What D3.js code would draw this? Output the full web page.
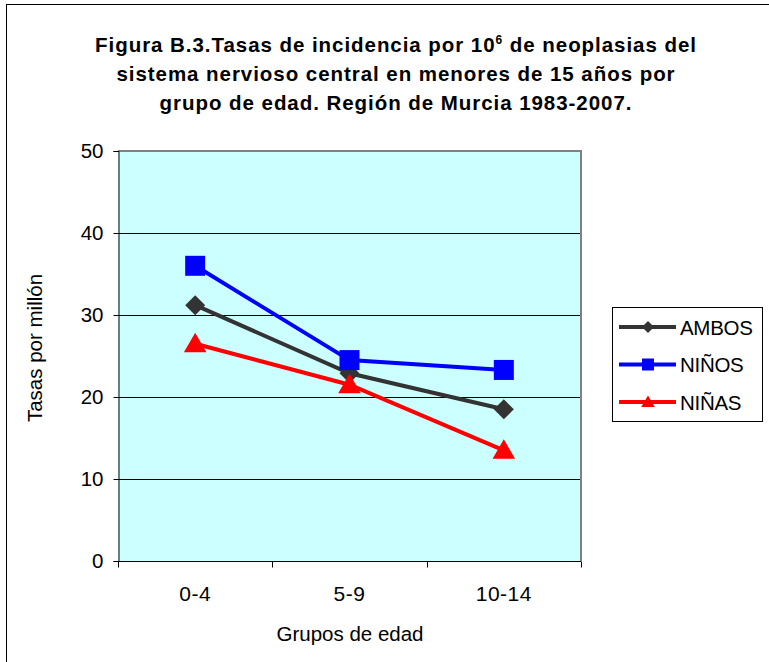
<!DOCTYPE html>
<html>
<head>
<meta charset="utf-8">
<script src="https://cdn.jsdelivr.net/npm/d3@7"></script>
<style>
  body { margin: 0; background: #fff; }
  svg { font-family: "Liberation Sans", Arial, sans-serif; }
</style>
</head>
<body>
<div id="vis"></div>
<script>
'use strict';

// Chart data
const groups = ["0-4", "5-9", "10-14"];
const ambos = [31.2, 22.9, 18.5];
const ninos = [36.0, 24.5, 23.3];
const ninas = [26.5, 21.5, 13.5];
const yTicks = [0, 10, 20, 30, 40, 50];

const series = [
    { name: "AMBOS", values: ambos, color: "#333333", marker: "diamond" },
    { name: "NIÑOS", values: ninos, color: "#0000FF", marker: "square" },
    { name: "NIÑAS", values: ninas, color: "#FF0000", marker: "triangle" }
];

const plot = { left: 118, right: 581, top: 151, bottom: 561 };
const axisFont = "20.5px";

const svg = d3.select("#vis").append("svg")
    .attr("width", 769)
    .attr("height", 662);

// Outer chart frame (only top and left are inside the picture)
svg.append("rect")
    .attr("x", 6.5).attr("y", 4.5)
    .attr("width", 800).attr("height", 700)
    .attr("fill", "none")
    .attr("stroke", "#000")
    .attr("stroke-width", 1);

// Title
const titleLines = [
    "sistema nervioso central en menores de 15 años por",
    "grupo de edad. Región de Murcia 1983-2007."
];
const title = svg.append("text")
    .attr("text-anchor", "middle")
    .style("font-weight", "bold")
    .style("font-size", "20.5px")
    .style("letter-spacing", "0.95px");
let line1 = title.append("tspan").attr("x", 396).attr("y", 52);
line1.append("tspan").text("Figura B.3.Tasas de incidencia por 10");
line1.append("tspan").text("6").attr("dy", -8).style("font-size", "12px");
line1.append("tspan").text(" de neoplasias del").attr("dy", 8);
title.append("tspan").attr("x", 396).attr("y", 81).text(titleLines[0]);
title.append("tspan").attr("x", 396).attr("y", 110).text(titleLines[1]);

// Scales
const x = d3.scaleBand()
    .domain(groups)
    .range([plot.left, plot.right]);
const y = d3.scaleLinear()
    .domain([0, 50])
    .range([plot.bottom, plot.top]);

// Plot area background
svg.append("rect")
    .attr("x", plot.left).attr("y", plot.top)
    .attr("width", plot.right - plot.left)
    .attr("height", plot.bottom - plot.top)
    .attr("fill", "#CCFFFF");

// Gridlines
svg.append("g")
    .selectAll("line")
    .data(yTicks.filter(d => d > 0 && d < 50))
    .enter()
    .append("line")
        .attr("x1", plot.left).attr("x2", plot.right)
        .attr("y1", d => Math.round(y(d)) + 0.5)
        .attr("y2", d => Math.round(y(d)) + 0.5)
        .attr("stroke", "#000")
        .attr("stroke-width", 1);

// Gray border on top and right
svg.append("path")
    .attr("d", `M${plot.left},${plot.top} H${plot.right} V${plot.bottom}`)
    .attr("fill", "none")
    .attr("stroke", "#808080")
    .attr("stroke-width", 2);

// Y axis
const yAxis = svg.append("g")
    .attr("transform", `translate(${plot.left + 0.5},0)`)
    .call(d3.axisLeft(y).tickValues(yTicks).tickSize(5).tickPadding(10));
yAxis.select(".domain").attr("stroke", "#000");
yAxis.selectAll("text")
    .style("font-size", axisFont)
    .style("font-family", "Liberation Sans, Arial, sans-serif")
    .attr("fill", "#000");

// X axis with ticks between categories
const xAxis = svg.append("g")
    .attr("transform", `translate(0,${plot.bottom + 0.5})`);
xAxis.append("line")
    .attr("x1", plot.left).attr("x2", plot.right)
    .attr("stroke", "#000");
const boundaries = groups.map(g => x(g)).concat([x(groups[groups.length - 1]) + x.bandwidth()]);
xAxis.selectAll(".xt")
    .data(boundaries)
    .enter()
    .append("line")
        .attr("x1", d => Math.round(d) + 0.5).attr("x2", d => Math.round(d) + 0.5)
        .attr("y1", 0).attr("y2", 6)
        .attr("stroke", "#000");
xAxis.selectAll(".xl")
    .data(groups)
    .enter()
    .append("text")
        .attr("x", d => x(d) + x.bandwidth() / 2)
        .attr("y", 39)
        .attr("text-anchor", "middle")
        .style("font-size", "21px")
        .style("letter-spacing", "0.5px")
        .text(d => d);

// Axis titles
svg.append("text")
    .attr("x", 350).attr("y", 641)
    .attr("text-anchor", "middle")
    .style("font-size", axisFont)
    .text("Grupos de edad");
svg.append("text")
    .attr("transform", "translate(42,348)rotate(-90)")
    .attr("text-anchor", "middle")
    .style("font-size", axisFont)
    .text("Tasas por millón");

// Marker shapes
const symbolFor = {
    diamond: d3.symbol().type(d3.symbolSquare).size(200),
    square: d3.symbol().type(d3.symbolSquare).size(400),
    triangle: d3.symbol().type(d3.symbolTriangle).size(220)
};
function drawMarker(g, kind, cx, cy, scale, color) {
    let rot = kind === "diamond" ? 45 : 0;
    let dy = kind === "triangle" ? 2 : 0;
    g.append("path")
        .attr("d", symbolFor[kind]())
        .attr("transform", `translate(${cx},${cy + dy * scale})rotate(${rot})scale(${scale})`)
        .attr("fill", color);
}

// Lines and markers
const line = d3.line()
    .x((d, i) => x(groups[i]) + x.bandwidth() / 2)
    .y(d => y(d));

series.forEach(s => {
    let g = svg.append("g");
    g.append("path")
        .datum(s.values)
        .attr("d", line)
        .attr("fill", "none")
        .attr("stroke", s.color)
        .attr("stroke-width", 4);
    s.values.forEach((v, i) => {
        drawMarker(g, s.marker, x(groups[i]) + x.bandwidth() / 2, y(v), 1, s.color);
    });
});

// Legend
const legend = svg.append("g");
legend.append("rect")
    .attr("x", 612.5).attr("y", 307.5)
    .attr("width", 150).attr("height", 114)
    .attr("fill", "#fff")
    .attr("stroke", "#000")
    .attr("stroke-width", 1);
series.forEach((s, i) => {
    let ly = 327 + i * 37.5;
    legend.append("line")
        .attr("x1", 619).attr("x2", 676)
        .attr("y1", ly).attr("y2", ly)
        .attr("stroke", s.color)
        .attr("stroke-width", 4);
    drawMarker(legend, s.marker, 648, ly, 0.6, s.color);
    legend.append("text")
        .attr("x", 680).attr("y", ly + 7.5)
        .style("font-size", axisFont)
        .style("letter-spacing", "-0.3px")
        .text(s.name);
});
</script>
</body>
</html>
